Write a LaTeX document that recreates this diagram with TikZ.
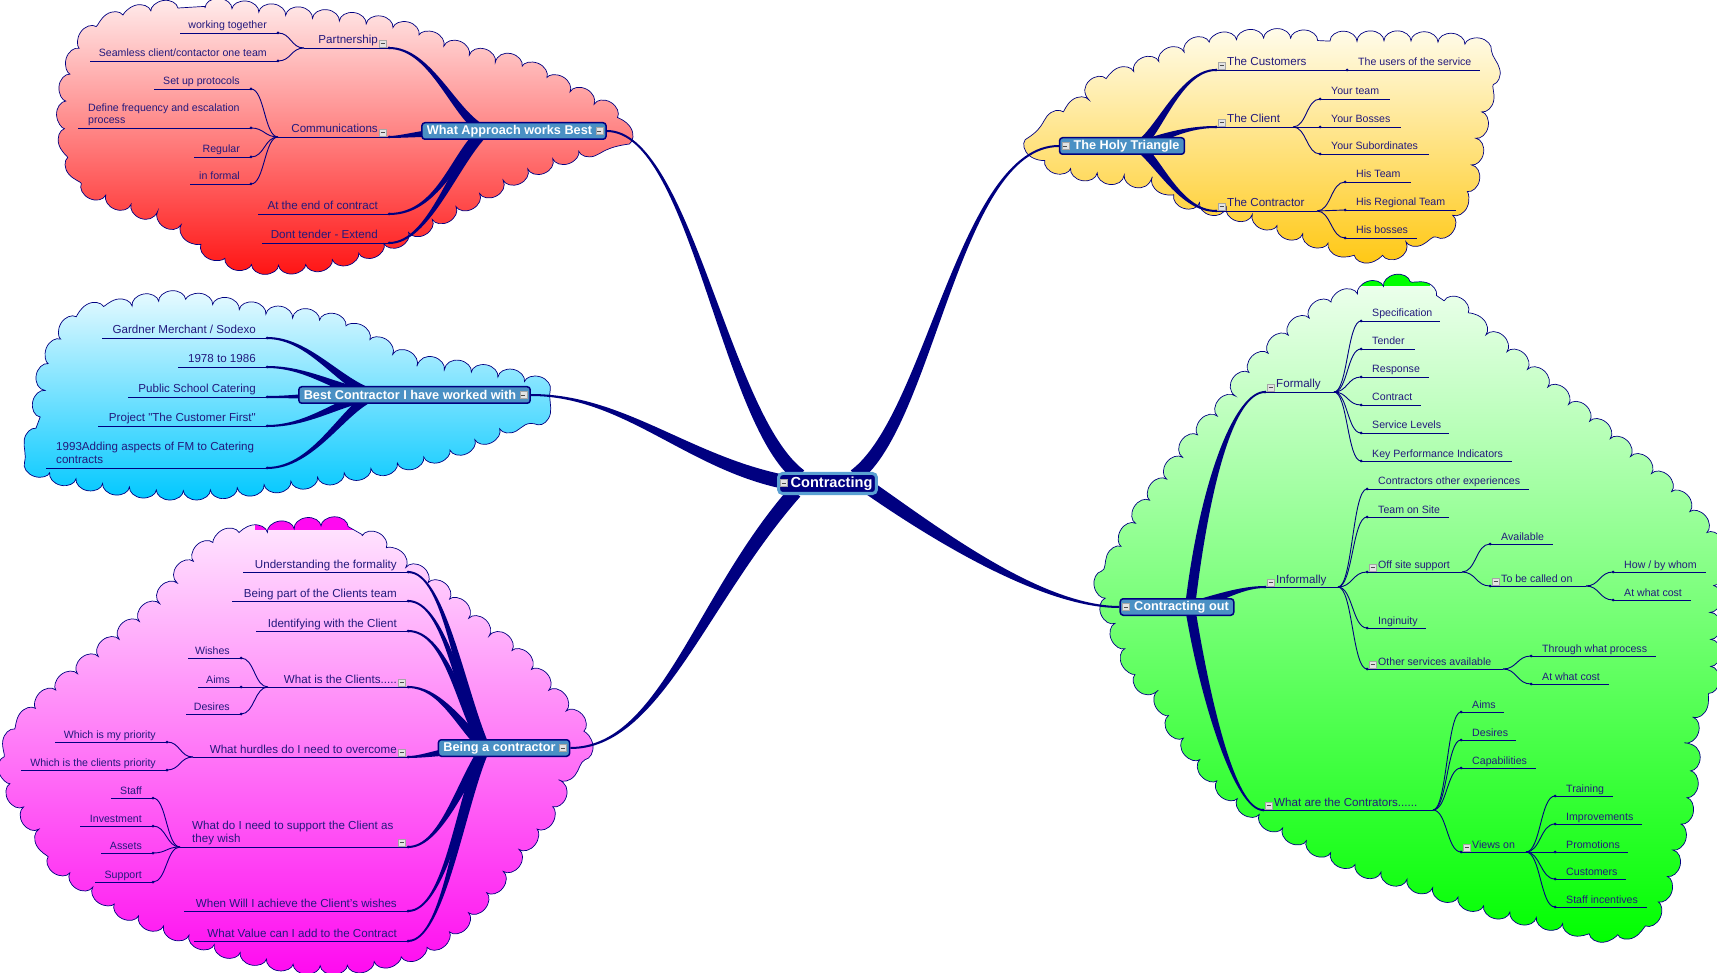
\documentclass[tikz,border=0pt]{standalone}
\usepackage{fontspec}
\setmainfont{Liberation Sans}
\usetikzlibrary{calc,decorations.pathmorphing}
\definecolor{navy}{RGB}{0,0,128}
\definecolor{txt}{RGB}{35,25,125}
\definecolor{steel}{RGB}{74,144,196}
\definecolor{lblue}{RGB}{90,160,210}
\definecolor{redtop}{RGB}{255,236,236}\definecolor{redbot}{RGB}{255,20,20}
\definecolor{yeltop}{RGB}{255,252,235}\definecolor{yelbot}{RGB}{255,200,20}
\definecolor{cyatop}{RGB}{232,250,255}\definecolor{cyabot}{RGB}{0,200,255}
\definecolor{magtop}{RGB}{255,232,255}\definecolor{magbot}{RGB}{255,10,240}
\definecolor{grntop}{RGB}{240,255,240}\definecolor{grnbot}{RGB}{0,255,0}
\pgfdeclarelayer{clouds}
\pgfdeclarelayer{conn}
\pgfsetlayers{clouds,conn,main}
\tikzset{
  lvtwo/.style={font=\fontsize{11.6}{13.4}\selectfont, text=txt, inner sep=0pt},
  leaf/.style={font=\fontsize{10.6}{12.4}\selectfont, text=txt, inner sep=0pt},
  mainbox/.style={draw=navy, line width=1.5pt, fill=steel, rounded corners=3pt, text=white,
     font=\bfseries\fontsize{12.7}{14}\selectfont, minimum height=16.5pt, inner xsep=5pt, inner ysep=0pt},
  ctrbox/.style={draw=lblue, line width=3pt, fill=navy, rounded corners=4pt, text=white,
     font=\bfseries\fontsize{14.6}{16}\selectfont, minimum height=20pt, inner xsep=4pt, inner ysep=0pt},
  uline/.style={draw=navy, line width=0.9pt},
  link/.style={draw=navy, line width=0.9pt},
  taperfill/.style={fill=navy},
  icon/.style={draw=gray!70, fill=gray!22, line width=0.5pt},
  iconbar/.style={draw=gray!60!black, line width=0.8pt},
  cloudshape/.style={decorate, decoration={bumps, segment length=54pt, amplitude=10pt}},
  cloudline/.style={cloudshape, draw=navy, line width=0.7pt},
}
% tapered connector: thin end #1, controls #2 #3, thick end #4, half widths #5 #6
\newcommand\taper[6]{%
 \fill[taperfill] ($(#1)!#5!90:(#2)$) .. controls ($(#2)!#5!-90:(#1)$) and ($(#3)!#6!90:(#4)$) .. ($(#4)!#6!-90:(#3)$)
   -- ($(#4)!#6!90:(#3)$) .. controls ($(#3)!#6!-90:(#4)$) and ($(#2)!#5!90:(#1)$) .. ($(#1)!#5!-90:(#2)$) -- cycle;}
\newcommand\itemL[6]{%
  \coordinate (#1-f) at (#2,#4);
  \coordinate (#1-d) at (#3,#4);
  \draw[uline] (#1-f) -- (#1-d);
  \fill[navy] (#1-d) circle (1.5pt);
  \node[#5, anchor=base east] (#1) at (#3-11,#4-4) {#6};
}
\newcommand\itemLm[8]{%
  \coordinate (#1-f) at (#2,#4);
  \coordinate (#1-d) at (#3,#4);
  \draw[uline] (#1-f) -- (#1-d);
  \fill[navy] (#1-d) circle (1.5pt);
  \node[#5, anchor=south west, align=left] (#1) at (#6,#7) {#8};
}
\newcommand\itemR[6]{%
  \coordinate (#1-d) at (#2,#4);
  \coordinate (#1-f) at (#3,#4);
  \draw[uline] (#1-d) -- (#1-f);
  \fill[navy] (#1-d) circle (1.5pt);
  \node[#5, anchor=base west] (#1) at (#2+11,#4-4) {#6};
}
\newcommand\icoL[1]{\draw[icon] ($(#1-d)+(-10,-8)$) rectangle +(7.5,7.5);
  \draw[iconbar] ($(#1-d)+(-8.5,-4.25)$) -- +(4.5,0);}
\newcommand\icoR[1]{\draw[icon] ($(#1-d)+(2,-8)$) rectangle +(7.5,7.5);
  \draw[iconbar] ($(#1-d)+(3.5,-4.25)$) -- +(4.5,0);}
\newcommand\icoAt[1]{\draw[icon] #1 rectangle +(7,7); \draw[iconbar] #1 ++(1.5,3.5) -- +(4,0);}
\newcommand\slink[2]{\path ($(#1)!0.5!(#2)$) coordinate (sm);
  \draw[link] (#1) .. controls (sm |- #1) and (sm |- #2) .. (#2);}
\def\cloudR{plot[smooth cycle,tension=0.55] coordinates {(150,13) (205,8) (300,17) (385,27) (430,41) (470,55) (520,67) (568,91) (600,108) (616,124) (610,139) (575,151) (522,172) (468,200) (418,227) (373,247) (320,261) (265,264) (227,256) (198,237) (167,218) (132,205) (100,192) (78,168) (68,135) (68,100) (73,72) (83,47) (110,25)}}
\def\cloudY{plot[smooth cycle,tension=0.55] coordinates {(1263,39) (1330,41) (1397,41) (1455,44) (1484,53) (1487,77) (1482,106) (1476,137) (1471,170) (1462,194) (1450,218) (1424,233) (1397,247) (1363,252) (1330,242) (1297,232) (1263,219) (1230,209) (1197,202) (1163,184) (1130,177) (1097,173) (1066,166) (1050,159) (1041,150) (1043,138) (1053,126) (1070,114) (1094,91) (1132,73) (1172,57) (1207,45)}}
\def\cloudC{plot[smooth cycle,tension=0.55] coordinates {(33,450) (40,417) (47,375) (60,345) (78,321) (110,311) (160,302) (195,303) (265,314) (336,325) (406,360) (470,372) (514,380) (538,388) (543,399) (531,411) (503,426) (458,446) (400,462) (336,474) (283,482) (230,488) (178,490) (125,486) (75,478) (44,469) (33,462)}}
\def\cloudM{plot[smooth cycle,tension=0.55] coordinates {(325,527) (362,536) (400,563) (437,590) (473,622) (510,650) (541,682) (564,709) (580,729) (579,753) (564,773) (553,803) (530,835) (493,884) (455,925) (419,948) (364,962) (306,964) (249,954) (192,936) (136,914) (99,891) (61,865) (42,834) (21,802) (10,770) (16,738) (42,705) (80,672) (118,640) (156,606) (187,570) (217,544) (268,533)}}
\def\cloudG{plot[smooth cycle,tension=0.55] coordinates {(1395,286) (1444,301) (1475,325) (1514,358) (1550,389) (1589,421) (1624,451) (1656,478) (1687,510) (1712,545) (1711,603) (1710,670) (1703,690) (1697,707) (1690,730) (1690,763) (1686,797) (1678,830) (1671,860) (1663,886) (1655,905) (1647,919) (1612,931) (1553,921) (1494,908) (1454,895) (1415,882) (1368,868) (1322,848) (1280,826) (1253,809) (1222,784) (1202,760) (1183,737) (1163,701) (1141,679) (1128,652) (1114,620) (1106,593) (1112,570) (1124,545) (1143,512) (1167,479) (1191,445) (1221,412) (1245,379) (1268,355) (1292,333) (1322,310) (1356,296)}}
\begin{document}
\begin{tikzpicture}[x=1pt,y=-1pt]
\useasboundingbox (0,0) rectangle (1717,973);
% ---------- clouds
\begin{pgfonlayer}{clouds}
\shade[cloudshape, top color=redtop, bottom color=redbot] \cloudR;
\draw[cloudline] \cloudR;
\shade[cloudshape, top color=yeltop, bottom color=yelbot] \cloudY;
\draw[cloudline] \cloudY;
\shade[cloudshape, top color=cyatop, bottom color=cyabot] \cloudC;
\draw[cloudline] \cloudC;
\shade[cloudshape, top color=magtop, bottom color=magbot] \cloudM;
\begin{scope}\clip[cloudshape] \cloudM; \fill[magbot] (255,500) rectangle (400,530);\end{scope}
\draw[cloudline] \cloudM;
\shade[cloudshape, top color=grntop, bottom color=grnbot] \cloudG;
\begin{scope}\clip[cloudshape] \cloudG; \fill[grnbot] (1360,260) rectangle (1430,286);\end{scope}
\draw[cloudline] \cloudG;
\end{pgfonlayer}
% ---------- main nodes
\node[ctrbox] (ctr) at (827.5,483.5) {\hspace*{8pt}Contracting};
\node[mainbox] (wab) at (514,131) {What Approach works Best\hspace*{9pt}};
\node[mainbox] (bst) at (414.5,395) {Best Contractor I have worked with\hspace*{9pt}};
\node[mainbox] (bac) at (504,748) {Being a contractor\hspace*{9pt}};
\node[mainbox] (hol) at (1122,146) {\hspace*{9pt}The Holy Triangle};
\node[mainbox] (cout) at (1177,607) {\hspace*{9pt}Contracting out};
\icoAt{($(ctr.west)+(3,-4)$)}
\icoAt{($(wab.east)+(-11,-3.5)$)}
\icoAt{($(bst.east)+(-11,-3.5)$)}
\icoAt{($(bac.east)+(-11,-3.5)$)}
\icoAt{($(hol.west)+(3,-3.5)$)}
\icoAt{($(cout.west)+(3,-3.5)$)}
\coordinate (hubA) at (800,476);
\coordinate (hubB) at (790,483);
\coordinate (hubC) at (795,492);
\coordinate (hubD) at (855,476);
\coordinate (hubE) at (868,487);
\coordinate (wabhub) at (485,131);
\coordinate (bsthub) at (375,395);
\coordinate (bachub) at (485,748);
\coordinate (holhub) at (1138,146);
\coordinate (couthub) at (1190,607);
% ---------- red
\itemL{part}{304}{389}{48}{lvtwo}{Partnership} \icoL{part}
\itemL{comm}{278}{389}{137}{lvtwo}{Communications} \icoL{comm}
\itemL{endc}{258}{389}{214}{lvtwo}{At the end of contract}
\itemL{dont}{262}{389}{243}{lvtwo}{Dont tender - Extend}
\itemL{wt}{180}{278}{33}{leaf}{working together}
\itemL{seam}{90}{278}{61}{leaf}{Seamless client/contactor one team}
\itemL{setup}{154}{251}{89}{leaf}{Set up protocols}
\itemLm{defn}{78}{251}{128}{leaf}{88}{126.2}{Define frequency and escalation\\process}
\itemL{reg}{194}{251}{157}{leaf}{Regular}
\itemL{inf}{190}{251}{184}{leaf}{in formal}
\slink{part-f}{wt-d} \slink{part-f}{seam-d}
\slink{comm-f}{setup-d} \slink{comm-f}{defn-d} \slink{comm-f}{reg-d} \slink{comm-f}{inf-d}
% ---------- cyan
\itemL{gm}{102}{267}{338}{lvtwo}{Gardner Merchant / Sodexo}
\itemL{yrs}{178}{267}{367}{lvtwo}{1978 to 1986}
\itemL{psc}{128}{267}{397}{lvtwo}{Public School Catering}
\itemL{proj}{98}{267}{426}{lvtwo}{Project \textquotedbl The Customer First\textquotedbl}
\itemLm{ninety}{46}{267}{468}{lvtwo}{56}{464}{1993Adding aspects of FM to Catering\\contracts}
% ---------- magenta
\itemL{und}{243}{408}{572}{lvtwo}{Understanding the formality}
\itemL{bpc}{232}{408}{601}{lvtwo}{Being part of the Clients team}
\itemL{idc}{256}{408}{631}{lvtwo}{Identifying with the Client}
\itemL{wic}{268}{408}{687}{lvtwo}{What is the Clients.....} \icoL{wic}
\itemL{whd}{193}{408}{757}{lvtwo}{What hurdles do I need to overcome} \icoL{whd}
\itemLm{wdn}{180}{408}{847}{lvtwo}{192}{845.4}{What do I need to support the Client as\\they wish} \icoL{wdn}
\itemL{wwa}{184}{408}{911}{lvtwo}{When Will I achieve the Client's wishes}
\itemL{wva}{194}{408}{941}{lvtwo}{What Value can I add to the Contract}
\itemL{wish}{188}{241}{658}{leaf}{Wishes}
\itemL{aimsA}{198}{241}{687}{leaf}{Aims}
\itemL{desA}{186}{241}{714}{leaf}{Desires}
\itemL{wmp}{55}{167}{742}{leaf}{Which is my priority}
\itemL{wcp}{21}{167}{770}{leaf}{Which is the clients priority}
\itemL{staff}{111}{153}{798}{leaf}{Staff}
\itemL{inv}{80}{153}{826}{leaf}{Investment}
\itemL{ass}{101}{153}{853}{leaf}{Assets}
\itemL{supp}{95}{153}{882}{leaf}{Support}
\slink{wic-f}{wish-d} \slink{wic-f}{aimsA-d} \slink{wic-f}{desA-d}
\slink{whd-f}{wmp-d} \slink{whd-f}{wcp-d}
\slink{wdn-f}{staff-d} \slink{wdn-f}{inv-d} \slink{wdn-f}{ass-d} \slink{wdn-f}{supp-d}
% ---------- yellow
\itemR{cus}{1216}{1317}{70}{lvtwo}{The Customers} \icoR{cus}
\itemR{cli}{1216}{1293}{127}{lvtwo}{The Client} \icoR{cli}
\itemR{con}{1216}{1317}{211}{lvtwo}{The Contractor} \icoR{con}
\itemR{usr}{1347}{1480}{70}{leaf}{The users of the service}
\itemR{yt}{1320}{1390}{99}{leaf}{Your team}
\itemR{yb}{1320}{1401}{127}{leaf}{Your Bosses}
\itemR{ys}{1320}{1429}{154}{leaf}{Your Subordinates}
\itemR{ht}{1345}{1411}{182}{leaf}{His Team}
\itemR{hrt}{1345}{1456}{210}{leaf}{His Regional Team}
\itemR{hb}{1345}{1417}{238}{leaf}{His bosses}
\draw[link] (cus-f) -- (usr-d);
\slink{cli-f}{yt-d} \slink{cli-f}{yb-d} \slink{cli-f}{ys-d}
\slink{con-f}{ht-d} \slink{con-f}{hrt-d} \slink{con-f}{hb-d}
% ---------- green
\itemR{frm}{1265}{1334}{392}{lvtwo}{Formally} \icoR{frm}
\itemR{infm}{1265}{1338}{587}{lvtwo}{Informally} \icoR{infm}
\itemR{wac}{1263}{1433}{810}{lvtwo}{What are the Contrators......} \icoR{wac}
\itemR{spec}{1361}{1440}{321}{leaf}{Specification}
\itemR{tend}{1361}{1415}{349}{leaf}{Tender}
\itemR{resp}{1361}{1429}{377}{leaf}{Response}
\itemR{ctrt}{1361}{1421}{405}{leaf}{Contract}
\itemR{svl}{1361}{1449}{433}{leaf}{Service Levels}
\itemR{kpi}{1361}{1512}{461}{leaf}{Key Performance Indicators}
\itemR{coe}{1367}{1529}{489}{leaf}{Contractors other experiences}
\itemR{tos}{1367}{1449}{517}{leaf}{Team on Site}
\itemR{ofs}{1367}{1462}{572}{leaf}{Off site support} \icoR{ofs}
\itemR{ing}{1367}{1426}{628}{leaf}{Inginuity}
\itemR{osa}{1367}{1503}{669}{leaf}{Other services available} \icoR{osa}
\itemR{avl}{1490}{1553}{544}{leaf}{Available}
\itemR{tbc}{1490}{1586}{586}{leaf}{To be called on} \icoR{tbc}
\itemR{hbw}{1613}{1706}{572}{leaf}{How / by whom}
\itemR{awc}{1613}{1691}{600}{leaf}{At what cost}
\itemR{twp}{1531}{1656}{656}{leaf}{Through what process}
\itemR{awcB}{1531}{1609}{684}{leaf}{At what cost}
\itemR{aimsB}{1461}{1504}{712}{leaf}{Aims}
\itemR{desB}{1461}{1516}{740}{leaf}{Desires}
\itemR{cap}{1461}{1536}{768}{leaf}{Capabilities}
\itemR{vo}{1461}{1526}{852}{leaf}{Views on} \icoR{vo}
\itemR{trn}{1555}{1613}{796}{leaf}{Training}
\itemR{imp}{1555}{1642}{824}{leaf}{Improvements}
\itemR{prm}{1555}{1628}{852}{leaf}{Promotions}
\itemR{cst}{1555}{1626}{879}{leaf}{Customers}
\itemR{sti}{1555}{1647}{907}{leaf}{Staff incentives}
\foreach \c in {spec,tend,resp,ctrt,svl,kpi} {\slink{frm-f}{\c-d}}
\foreach \c in {coe,tos,ofs,ing,osa} {\slink{infm-f}{\c-d}}
\slink{ofs-f}{avl-d} \slink{ofs-f}{tbc-d}
\slink{tbc-f}{hbw-d} \slink{tbc-f}{awc-d}
\slink{osa-f}{twp-d} \slink{osa-f}{awcB-d}
\foreach \c in {aimsB,desB,cap,vo} {\slink{wac-f}{\c-d}}
\foreach \c in {trn,imp,prm,cst,sti} {\slink{vo-f}{\c-d}}
% ---------- tapered connectors
\begin{pgfonlayer}{conn}
\taper{wab.east}{690,131}{725,420}{hubA}{1pt}{7pt}
\taper{bst.east}{625,395}{690,465}{hubB}{1pt}{7pt}
\taper{bac.east}{660,748}{700,600}{hubC}{1pt}{7pt}
\taper{hol.west}{960,146}{930,420}{hubD}{1pt}{7pt}
\taper{cout.west}{1040,607}{930,530}{hubE}{1pt}{7pt}
\taper{part-d}{432,48}{455,118}{wabhub}{1pt}{5pt}
\taper{comm-d}{405,137}{430,131}{wabhub}{1pt}{5pt}
\taper{endc-d}{440,214}{455,150}{wabhub}{1pt}{5pt}
\taper{dont-d}{430,243}{455,160}{wabhub}{1pt}{5pt}
\taper{gm-d}{310,338}{340,385}{bsthub}{1pt}{5pt}
\taper{yrs-d}{310,367}{340,392}{bsthub}{1pt}{5pt}
\taper{psc-d}{300,397}{330,395}{bsthub}{1pt}{5pt}
\taper{proj-d}{310,426}{340,400}{bsthub}{1pt}{5pt}
\taper{ninety-d}{315,468}{345,405}{bsthub}{1pt}{5pt}
\taper{und-d}{445,572}{460,690}{bachub}{1pt}{5pt}
\taper{bpc-d}{445,601}{460,700}{bachub}{1pt}{5pt}
\taper{idc-d}{445,631}{460,705}{bachub}{1pt}{5pt}
\taper{wic-d}{440,687}{460,725}{bachub}{1pt}{5pt}
\taper{whd-d}{425,757}{445,750}{bachub}{1pt}{5pt}
\taper{wdn-d}{440,847}{460,785}{bachub}{1pt}{5pt}
\taper{wwa-d}{445,911}{460,800}{bachub}{1pt}{5pt}
\taper{wva-d}{445,941}{460,805}{bachub}{1pt}{5pt}
\taper{cus-d}{1180,70}{1158,135}{holhub}{1pt}{5pt}
\taper{cli-d}{1180,127}{1155,142}{holhub}{1pt}{5pt}
\taper{con-d}{1180,211}{1158,160}{holhub}{1pt}{5pt}
\taper{frm-d}{1235,392}{1205,480}{couthub}{1pt}{5pt}
\taper{infm-d}{1240,587}{1215,600}{couthub}{1pt}{5pt}
\taper{wac-d}{1235,810}{1205,700}{couthub}{1pt}{5pt}
\end{pgfonlayer}
\end{tikzpicture}
\end{document}
